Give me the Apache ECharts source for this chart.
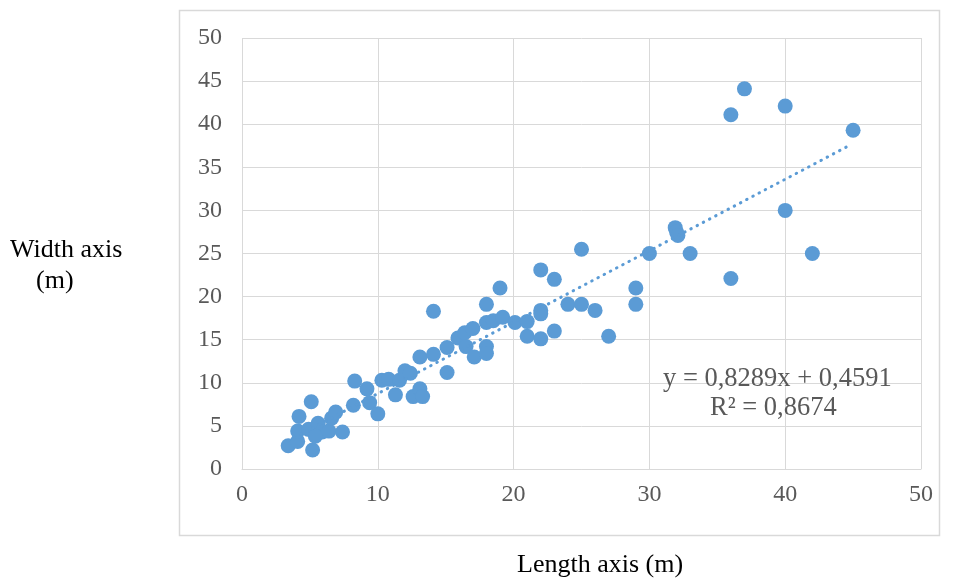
<!DOCTYPE html>
<html>
<head>
<meta charset="utf-8">
<script src="https://cdn.jsdelivr.net/npm/echarts@6/dist/echarts.min.js"></script>
<style>
  html, body { margin: 0; padding: 0; background: #fff; }
  #chart { width: 953px; height: 583px; }
</style>
</head>
<body>
<div id="chart"></div>
<script>
// length (x) and width (y) of each sample
var lengthVals = [3.4, 4.1, 4.1, 4.2, 5.1, 5.2, 4.9, 5.6, 5.9, 5.4, 6.4, 6.6, 6.9, 7.4, 8.2, 8.3, 9.2, 9.4, 10.0, 10.3,
  10.8, 11.3, 11.6, 12.0, 12.4, 12.6, 13.1, 13.3, 13.1, 14.1, 14.1, 15.1, 15.1, 15.9, 16.4, 16.5, 17.0, 17.1, 18.0, 18.0,
  18.0, 18.0, 18.5, 19.0, 19.2, 20.1, 21.0, 21.0, 22.0, 22.0, 22.0, 22.0, 23.0, 23.0, 24.0, 25.0, 25.0, 26.0, 27.0, 29.0,
  29.0, 30.0, 31.9, 32.0, 32.1, 33.0, 36.0, 37.0, 40.0, 45.0, 40.0, 36.0, 42.0];
var widthVals = [2.7, 3.2, 4.4, 6.1, 7.8, 2.2, 4.6, 5.3, 4.3, 3.8, 4.4, 5.9, 6.6, 4.3, 7.4, 10.2, 9.3, 7.7, 6.4, 10.3,
  10.4, 8.6, 10.3, 11.4, 11.1, 8.4, 9.3, 8.4, 13.0, 13.3, 18.3, 14.1, 11.2, 15.2, 15.8, 14.2, 16.3, 13.0, 14.2, 13.4,
  17.0, 19.1, 17.2, 21.0, 17.6, 17.0, 17.1, 15.4, 18.4, 18.0, 15.1, 23.1, 22.0, 16.0, 19.1, 19.1, 25.5, 18.4, 15.4, 21.0,
  19.1, 25.0, 28.0, 27.5, 27.1, 25.0, 41.1, 44.1, 42.1, 39.3, 30.0, 22.1, 25.0];

// linear trend line ends (y = 0,8289x + 0,4591)
var trendX = [3.4, 44.7];
var trendY = [3.28, 37.51];

var axisTicks = [0, 5, 10, 15, 20, 25, 30, 35, 40, 45, 50];
var eqText = 'y = 0,8289x + 0,4591';
var r2Text = 'R² = 0,8674';

var points = lengthVals.map(function (v, i) { return [v, widthVals[i]]; });
var trend = trendX.map(function (v, i) { return [v, trendY[i]]; });

var chart = echarts.init(document.getElementById('chart'));
var serif = 'Liberation Serif, Times New Roman, serif';

var option = {
  backgroundColor: '#fff',
  animation: false,
  grid: { left: 242, top: 38, width: 679, height: 431 },
  xAxis: {
    type: 'value', min: 0, max: 50, interval: 10,
    axisLine: { show: true, lineStyle: { color: '#d9d9d9', width: 1 } },
    axisTick: { show: false },
    axisLabel: { fontFamily: serif, fontSize: 24, color: '#595959', margin: 14 },
    splitLine: { show: true, lineStyle: { color: '#d9d9d9', width: 1 } }
  },
  yAxis: {
    type: 'value', min: axisTicks[0], max: axisTicks[axisTicks.length - 1], interval: 5,
    axisLine: { show: false },
    axisTick: { show: false },
    axisLabel: { fontFamily: serif, fontSize: 24, color: '#595959', margin: 20 },
    splitLine: { show: true, lineStyle: { color: '#d9d9d9', width: 1 } }
  },
  graphic: [
    {
      type: 'rect', left: 177, top: 8, z: -1,
      shape: { width: 760, height: 525 },
      style: { fill: 'none', stroke: '#d9d9d9', lineWidth: 1.5 }
    },
    {
      type: 'text', left: 10, top: 237,
      style: { text: 'Width axis', font: '26px ' + serif, fill: '#000' }
    },
    {
      type: 'text', left: 36, top: 268,
      style: { text: '(m)', font: '26px ' + serif, fill: '#000' }
    },
    {
      type: 'text', left: 663, top: 366, z: 10,
      style: { text: eqText, font: '26.5px ' + serif, fill: '#595959' }
    },
    {
      type: 'text', left: 710, top: 395, z: 10,
      style: { text: r2Text, font: '26.5px ' + serif, fill: '#595959' }
    },
    {
      type: 'text', left: 517, top: 552,
      style: { text: 'Length axis (m)', font: '26px ' + serif, fill: '#000' }
    }
  ],
  series: [
    {
      type: 'scatter',
      data: points,
      symbolSize: 15,
      itemStyle: { color: '#5b9bd5', opacity: 1 },
      z: 2
    },
    {
      type: 'line',
      data: trend,
      symbol: 'none',
      lineStyle: { color: '#5b9bd5', width: 3, type: [0.5, 6.5], cap: 'round' },
      z: 3
    }
  ]
};
chart.setOption(option);
</script>
</body>
</html>
